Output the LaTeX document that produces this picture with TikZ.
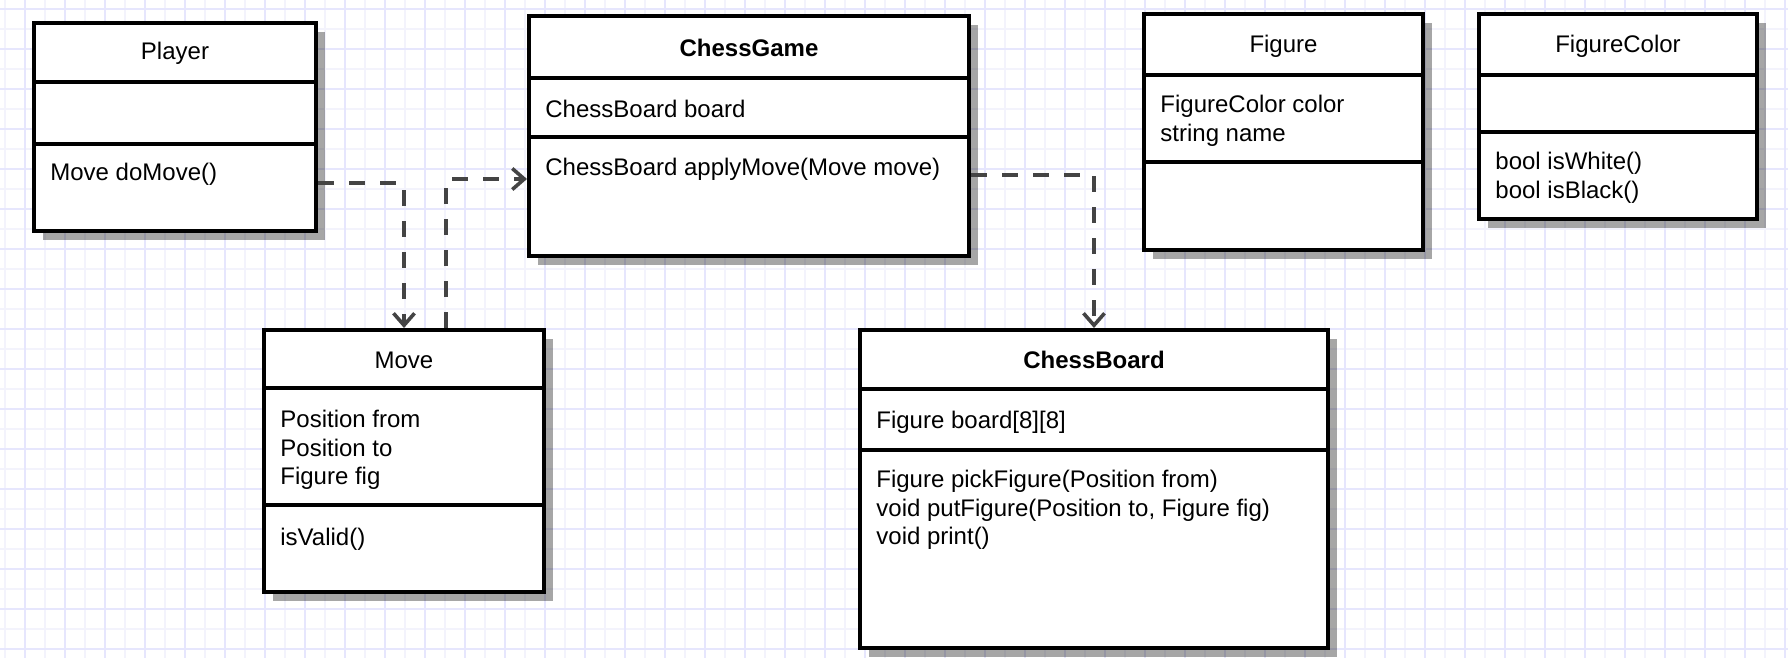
\documentclass[tikz,border=0pt]{standalone}
\usepackage{fontspec}
\setmainfont{Liberation Sans}
\usetikzlibrary{fit,shadows,arrows.meta}
\definecolor{gridA}{HTML}{E6E6FD}
\definecolor{gridB}{HTML}{F3F3FC}
\definecolor{linkgray}{HTML}{444444}

\begin{document}
\begin{tikzpicture}[x=0.5pt,y=-0.5pt,bold/.style={font=\fontsize{12}{14.3}\selectfont\bfseries}]
	\tikzstyle{umlbox}=[rectangle, draw=black, line width=2pt, fill=white, inner sep=0pt,
	    drop shadow={shadow xshift=4.5pt, shadow yshift=-4.5pt, fill=black, opacity=0.35}]
	\tikzstyle{classname}=[font=\fontsize{12}{14.3}\selectfont, inner sep=0pt, yshift=-0.5pt]
	\tikzstyle{member}=[font=\fontsize{12}{14.3}\selectfont, align=left, anchor=west, inner sep=0pt, xshift=9pt, yshift=-1.5pt]
	\tikzstyle{divider}=[line width=2pt]
	\tikzstyle{connect}=[-{Straight Barb[length=6pt,width=10.5pt]}, line width=1.8pt, draw=linkgray, dash pattern=on 8pt off 7.5pt]
	\useasboundingbox (0,0) rectangle (1788,658);
	% grid paper
	\fill[white] (0,0) rectangle (1788,658);
	\foreach \gx in {5,45,...,1788} \draw[gridB, line width=0.65pt] (\gx,0) -- (\gx,658);
	\foreach \gy in {29,69,...,658} \draw[gridB, line width=0.65pt] (0,\gy) -- (1788,\gy);
	\foreach \gx in {25,65,...,1788} \draw[gridA, line width=0.65pt] (\gx,0) -- (\gx,658);
	\foreach \gy in {9,49,...,658} \draw[gridA, line width=0.65pt] (0,\gy) -- (1788,\gy);
	
	\node[umlbox, fit={(34,23) (316,231)}] (player) {};
	\node[umlbox, fit={(529,16) (969,256)}] (game) {};
	\node[umlbox, fit={(1144,14) (1423,250)}] (figure) {};
	\node[umlbox, fit={(1479,14) (1757,219)}] (figcolor) {};
	\node[umlbox, fit={(264,330) (544,592)}] (move) {};
	\node[umlbox, fit={(860,330) (1328,648)}] (board) {};
	% compartments
	\foreach \nd/\ya/\yb in {player/82/144, game/78/137, figure/75/162, figcolor/75/132, move/388/505, board/389/450} {
		\draw[divider] (\nd.west |- 0,\ya) -- (\nd.east |- 0,\ya);
		\draw[divider] (\nd.west |- 0,\yb) -- (\nd.east |- 0,\yb);
	}
	
	\node[classname] (playerT) at (player.north |- 0,52) {Player};
	\node[classname, bold] (gameT) at (game.north |- 0,47) {ChessGame};
	\node[classname] (figureT) at (figure.north |- 0,45) {Figure};
	\node[classname] (figcolorT) at (figcolor.north |- 0,45) {FigureColor};
	\node[classname] (moveT) at (move.north |- 0,359) {Move};
	\node[classname, bold] (boardT) at (board.north |- 0,359) {ChessBoard};
	
	\node[member] (playerOps) at (player.west |- 0,171) {Move doMove()};
	\node[member] (gameAttr) at (game.west |- 0,106) {ChessBoard board};
	\node[member] (gameOps) at (game.west |- 0,166) {ChessBoard applyMove(Move move)};
	\node[member] (figureAttr) at (figure.west |- 0,118) {FigureColor color\\string name};
	\node[member] (figcolorOps) at (figcolor.west |- 0,175) {bool isWhite()\\bool isBlack()};
	\node[member] (moveAttr) at (move.west |- 0,447) {Position from\\Position to\\Figure fig};
	\node[member] (moveOps) at (move.west |- 0,536) {isValid()};
	\node[member] (boardAttr) at (board.west |- 0,419) {Figure board[8][8]};
	\node[member] (boardOps) at (board.west |- 0,507) {Figure pickFigure(Position from)\\void putFigure(Position to, Figure fig)\\void print()};
	
	% dependencies
	\draw[connect] ([yshift=-28pt]player.east) -| (move.north);
	\draw[connect] ([xshift=21pt]move.north) |- ([yshift=-21.5pt]game.west);
	\draw[connect] ([yshift=-19.5pt]game.east) -| (board.north);
\end{tikzpicture}
\end{document}
